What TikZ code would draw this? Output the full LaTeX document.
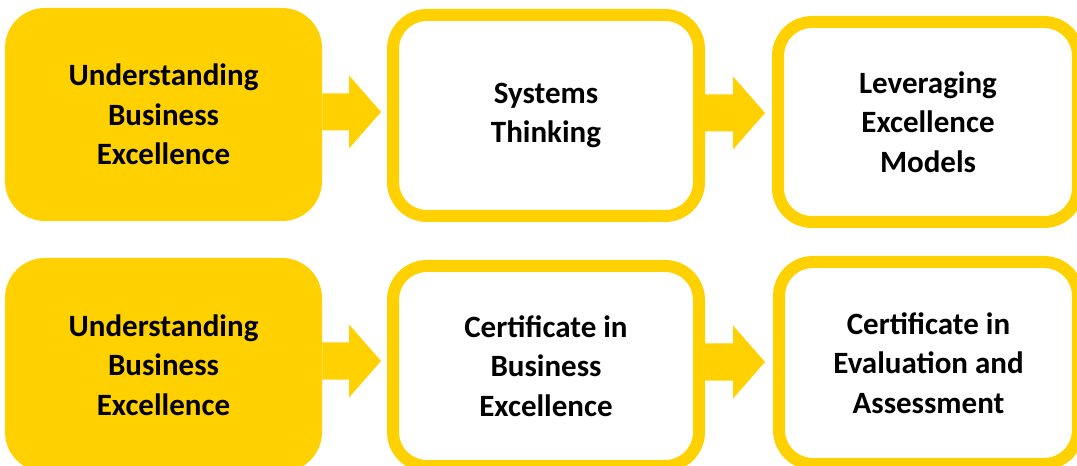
\documentclass[tikz,border=0pt]{standalone}
\usepackage{fontspec}
\setmainfont{Carlito}
\usetikzlibrary{calc}
\definecolor{yel}{RGB}{255,209,0}
\begin{document}
\begin{tikzpicture}[x=0.75pt,y=-0.75pt,
  txt/.style={font=\bfseries\fontsize{23.25pt}{29.6pt}\selectfont, text=black, align=center, inner sep=0pt},
  solidbox/.style={txt, fill=yel, rounded corners=30pt},
  linebox/.style={txt, draw=yel, line width=9pt, fill=white, rounded corners=25.5pt},
  blockarrow/.style={fill=yel, to path={let \p1=(\tikztostart), \p2=(\tikztotarget) in
    (\x1,\y1+13.9pt) -- (\x2-24pt,\y1+13.9pt) -- (\x2-24pt,\y1+27.4pt) -- (\x2,\y1)
    -- (\x2-24pt,\y1-27.4pt) -- (\x2-24pt,\y1-13.9pt) -- (\x1,\y1-13.9pt) -- cycle}}]
\clip (0,0) rectangle (1077,466);
\fill[white] (0,0) rectangle (1077,466);
% row 1
\node[solidbox, minimum width=237.75pt, minimum height=159.75pt] (b1) at (163.5,114.5) {Understanding\\Business\\Excellence};
\node[linebox, minimum width=229.5pt, minimum height=150.75pt] (b2) at (546,115.5) {Systems\\Thinking};
\node[linebox, minimum width=225pt, minimum height=150pt] (b3) at (928,122) {Leveraging\\Excellence\\Models};
% row 2
\node[solidbox, minimum width=237.75pt, minimum height=160.5pt] (b4) at (163.5,365) {Understanding\\Business\\Excellence};
\node[linebox, minimum width=229.5pt, minimum height=150pt] (b5) at (546,366) {Certificate in\\Business\\Excellence};
\node[linebox, minimum width=224.25pt, minimum height=151.5pt] (b6) at (928.5,363) {Certificate in\\Evaluation and\\Assessment};
% arrows
\path[blockarrow] ([yshift=1.9pt]b1.east) to ([xshift=-4.5pt]b2.west);
\path[blockarrow] ([yshift=1.9pt]b2.east) to ([xshift=-5.25pt]b3.west);
\path[blockarrow] ([yshift=3pt]b4.east) to ([xshift=-4.5pt]b5.west);
\path[blockarrow] ([yshift=3pt]b5.east) to ([xshift=-6pt]b6.west);
\end{tikzpicture}
\end{document}
